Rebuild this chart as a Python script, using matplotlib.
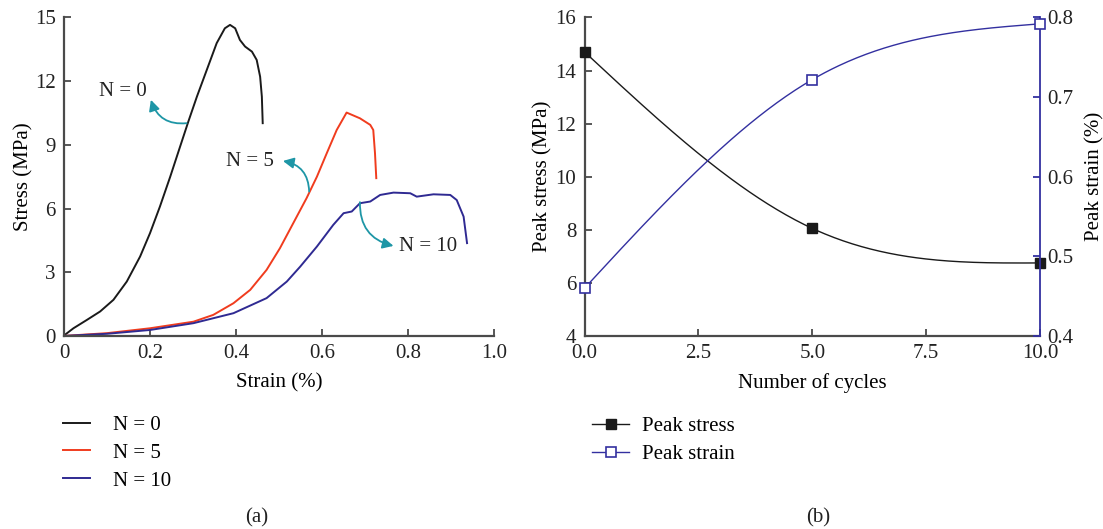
import matplotlib
matplotlib.use("Agg")
import matplotlib.pyplot as plt
import numpy as np

plt.rcParams.update({
    "font.family": ["Liberation Serif", "DejaVu Serif"],
    "font.size": 15,
    "axes.linewidth": 1.6,
    "axes.edgecolor": "#4a4a4a",
    "xtick.direction": "in",
    "ytick.direction": "in",
    "xtick.major.size": 5,
    "ytick.major.size": 5,
    "xtick.major.width": 1.3,
    "ytick.major.width": 1.3,
    "xtick.major.pad": 6,
    "ytick.major.pad": 6,
    "xtick.color": "#4a4a4a",
    "ytick.color": "#4a4a4a",
    "xtick.labelcolor": "#222222",
    "ytick.labelcolor": "#222222",
})

# (a) stress-strain curves
n0_strain = [0, 0.002, 0.022, 0.053, 0.084, 0.115, 0.146, 0.177, 0.2, 0.223, 0.247, 0.270,
             0.289, 0.309, 0.332, 0.355, 0.374, 0.386, 0.398, 0.409, 0.421, 0.437, 0.448,
             0.456, 0.460, 0.462]
n0_stress = [0, 0.05, 0.36, 0.75, 1.15, 1.70, 2.56, 3.74, 4.84, 6.09, 7.50, 8.92,
             10.09, 11.27, 12.53, 13.79, 14.49, 14.65, 14.49, 13.94, 13.63, 13.39, 13.0,
             12.21, 11.27, 10.02]

n5_strain = [0, 0.1, 0.2, 0.301, 0.347, 0.394, 0.433, 0.471, 0.502, 0.533, 0.564, 0.588,
             0.611, 0.634, 0.657, 0.688, 0.712, 0.719, 0.723, 0.726]
n5_stress = [0, 0.13, 0.36, 0.67, 0.99, 1.54, 2.17, 3.11, 4.13, 5.31, 6.49, 7.50,
             8.61, 9.70, 10.52, 10.25, 9.94, 9.70, 8.61, 7.43]

n10_strain = [0, 0.1, 0.2, 0.301, 0.394, 0.471, 0.518, 0.549, 0.588, 0.626, 0.650, 0.669,
              0.688, 0.712, 0.735, 0.766, 0.805, 0.820, 0.859, 0.898, 0.913, 0.929, 0.937]
n10_stress = [0, 0.1, 0.28, 0.6, 1.07, 1.78, 2.56, 3.26, 4.21, 5.23, 5.78, 5.86,
              6.25, 6.33, 6.64, 6.75, 6.72, 6.56, 6.67, 6.64, 6.40, 5.62, 4.37]

curve_labels = ["N = 0", "N = 5", "N = 10"]
curve_colors = ["#1a1a1a", "#f03c1e", "#2f2a92"]

# (b) peak values vs number of cycles
cycles = [0, 5, 10]
peak_stress = [14.7, 8.05, 6.75]
peak_strain = [0.46, 0.722, 0.792]


def natural_spline(x, y, num=200):
    """Smooth connector through the points (natural cubic spline, like Origin's)."""
    x = np.asarray(x, float)
    y = np.asarray(y, float)
    n = len(x)
    h = np.diff(x)
    A = np.zeros((n, n))
    b = np.zeros(n)
    A[0, 0] = A[-1, -1] = 1
    for i in range(1, n - 1):
        A[i, i - 1] = h[i - 1]
        A[i, i] = 2 * (h[i - 1] + h[i])
        A[i, i + 1] = h[i]
        b[i] = 6 * ((y[i + 1] - y[i]) / h[i] - (y[i] - y[i - 1]) / h[i - 1])
    M = np.linalg.solve(A, b)
    xs = np.linspace(x[0], x[-1], num)
    idx = np.clip(np.searchsorted(x, xs) - 1, 0, n - 2)
    x0, x1, hh = x[idx], x[idx + 1], h[idx]
    ys = (M[idx] * (x1 - xs) ** 3 / (6 * hh) + M[idx + 1] * (xs - x0) ** 3 / (6 * hh)
          + (y[idx] / hh - M[idx] * hh / 6) * (x1 - xs)
          + (y[idx + 1] / hh - M[idx + 1] * hh / 6) * (xs - x0))
    return xs, ys


fig = plt.figure(figsize=(11.03, 5.29), dpi=100)
ax_a = fig.add_axes([0.058, 0.365, 0.39, 0.602])
ax_b = fig.add_axes([0.530, 0.365, 0.413, 0.602])

# ---- panel (a) ----
lines_a = []
for xs, ys, lab, col in zip([n0_strain, n5_strain, n10_strain],
                            [n0_stress, n5_stress, n10_stress],
                            curve_labels, curve_colors):
    ln, = ax_a.plot(xs, ys, color=col, lw=1.4, label=lab, solid_joinstyle="round")
    lines_a.append(ln)

ax_a.set_xlim(0, 1.0)
ax_a.set_ylim(0, 15)
ax_a.set_xticks([0, 0.2, 0.4, 0.6, 0.8, 1.0])
ax_a.set_xticklabels(["0", "0.2", "0.4", "0.6", "0.8", "1.0"])
ax_a.set_yticks([0, 3, 6, 9, 12, 15])
ax_a.spines[["top", "right"]].set_visible(False)
ax_a.set_xlabel("Strain (%)", labelpad=7)
ax_a.set_ylabel("Stress (MPa)", labelpad=1)

teal = "#1e96a6"
arrow = dict(arrowstyle="-|>", color=teal, lw=1.3, mutation_scale=16, shrinkA=0, shrinkB=0)
ax_a.annotate("", xy=(0.202, 11.12), xytext=(0.285, 10.02),
              arrowprops=dict(arrow, connectionstyle="arc3,rad=-0.4"))
ax_a.annotate("", xy=(0.509, 8.24), xytext=(0.570, 6.80),
              arrowprops=dict(arrow, connectionstyle="arc3,rad=0.4"))
ax_a.annotate("", xy=(0.766, 4.24), xytext=(0.688, 6.30),
              arrowprops=dict(arrow, connectionstyle="arc3,rad=0.4"))
ax_a.text(0.137, 11.49, "N = 0", ha="center", va="center", color="#222222")
ax_a.text(0.433, 8.20, "N = 5", ha="center", va="center", color="#222222")
ax_a.text(0.846, 4.19, "N = 10", ha="center", va="center", color="#222222")

ax_a.legend(handles=lines_a, loc="upper left", bbox_to_anchor=(0.057, 0.215),
            bbox_transform=fig.transFigure, frameon=False, borderpad=0, borderaxespad=0,
            handlelength=1.3, handletextpad=1.1, labelspacing=0.4)

# ---- panel (b) ----
navy = "#3330a0"
ax_b2 = ax_b.twinx()
sx, sy = natural_spline(cycles, peak_stress)
ax_b.plot(sx, sy, color="#1a1a1a", lw=1.0)
ax_b.plot(cycles, peak_stress, ls="none", marker="s", ms=6.5, color="#1a1a1a", clip_on=False, zorder=5)
tx, ty = natural_spline(cycles, peak_strain)
ax_b2.plot(tx, ty, color=navy, lw=1.0)
ax_b2.plot(cycles, peak_strain, ls="none", marker="s", ms=6.5, mfc="white", mec=navy,
           mew=1.2, clip_on=False, zorder=5)

ax_b.set_xlim(0, 10)
ax_b.set_ylim(4, 16)
ax_b.set_xticks([0, 2.5, 5, 7.5, 10])
ax_b.set_xticklabels(["0.0", "2.5", "5.0", "7.5", "10.0"])
ax_b.set_yticks([4, 6, 8, 10, 12, 14, 16])
ax_b2.set_ylim(0.4, 0.8)
ax_b2.set_yticks([0.4, 0.5, 0.6, 0.7, 0.8])
for a in (ax_b, ax_b2):
    a.spines["top"].set_visible(False)
ax_b.spines["right"].set_visible(False)
ax_b2.spines["left"].set_visible(False)
ax_b2.spines["bottom"].set_visible(False)
ax_b2.spines["right"].set_color(navy)
ax_b2.spines["right"].set_linewidth(1.3)
ax_b2.tick_params(axis="y", color=navy, direction="in", pad=5)
ax_b.set_xlabel("Number of cycles", labelpad=7)
ax_b.set_ylabel("Peak stress (MPa)", labelpad=2)
ax_b2.set_ylabel("Peak strain (%)", labelpad=9)

h1 = plt.Line2D([], [], color="#1a1a1a", lw=1.0, marker="s", ms=6.5)
h2 = plt.Line2D([], [], color=navy, lw=1.0, marker="s", ms=6.5, mfc="white", mec=navy, mew=1.2)
ax_b.legend(handles=[h1, h2], labels=["Peak stress", "Peak strain"], loc="upper left",
            bbox_to_anchor=(0.537, 0.212), bbox_transform=fig.transFigure, frameon=False,
            borderpad=0, borderaxespad=0, handlelength=1.75, handletextpad=0.65,
            labelspacing=0.4)

fig.text(0.233, 0.022, "(a)", ha="center", va="center", color="#222222")
fig.text(0.7416, 0.022, "(b)", ha="center", va="center", color="#222222")

fig.savefig("out.png", dpi=100, facecolor="white")
